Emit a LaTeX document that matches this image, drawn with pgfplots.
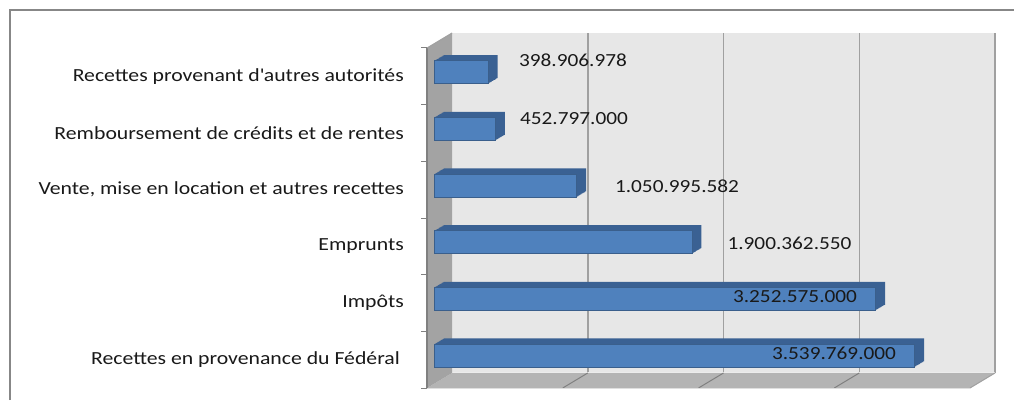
\documentclass[border=0pt]{standalone}
\usepackage{fontspec}
\setmainfont{Carlito}[FakeStretch=1.15]
\newfontfamily\catfont{Carlito}[FakeStretch=1.175]
\usepackage{pgfplots}
\pgfplotsset{compat=1.18}
\usepackage{pgfplotstable}
\definecolor{barfront}{HTML}{4F81BD}
\definecolor{barside}{HTML}{3A6193}
\definecolor{barline}{HTML}{3A5F8C}
\definecolor{wallback}{HTML}{E7E7E7}
\definecolor{wallfloor}{HTML}{B4B4B4}
\definecolor{wallside}{HTML}{A3A3A3}
\definecolor{gridc}{HTML}{A0A0A0}
\definecolor{framec}{HTML}{878787}
\definecolor{edgec}{HTML}{808080}

\pgfplotstableread{
y x
0 3539769000
1 3252575000
2 1900362550
3 1050995582
4 452797000
5 398906978
}\datatable

\begin{document}
\begin{tikzpicture}[x=1pt,y=1pt]
\path[use as bounding box] (0,0) rectangle (1014,400);
% outer frame
\draw[framec, line width=2pt] (10,0) -- (10,390) -- (1014,390);
% back wall
\fill[wallback] (452,27) rectangle (995,367);
\foreach \k in {1,2,3} {
  \draw[gridc, line width=1.5pt] ({452+135.75*\k},27) -- ({452+135.75*\k},367);
}
\draw[gridc, line width=2pt] (995,27) -- (995,367);
% floor
\fill[wallfloor] (427,12) -- (970,12) -- (995,27) -- (452,27) -- cycle;
\draw[white!85!gray, line width=1pt] (452,27.5) -- (995,27.5);
\foreach \k in {1,2,3} {
  \draw[edgec, line width=1pt] ({452+135.75*\k},27) -- ({427+135.75*\k},12);
}
\draw[gridc, line width=1pt] (995,27) -- (970,12);
\draw[white!75!gray, line width=1pt] (427,12) -- (970,12);
% side wall
\fill[wallside] (427,12) -- (452,27) -- (452,367) -- (427,352) -- cycle;
\draw[edgec, line width=1.5pt] (427,12) -- (427,352);
\draw[gridc, line width=1pt] (427,352) -- (452,367);
\foreach \k in {0,...,6} {
  \draw[edgec, line width=1pt] (421,{12+56.667*\k}) -- (427,{12+56.667*\k});
}
\begin{axis}[
  at={(434pt,16pt)}, anchor=south west,
  scale only axis, width=543pt, height=340pt,
  xmin=0, xmax=4e9, ymin=-0.5, ymax=5.5,
  axis line style={draw=none},
  xtick=\empty,
  ytick={0,1,2,3,4,5},
  yticklabels={{Recettes en provenance du Fédéral\hspace*{4pt}},{Impôts},{Emprunts},{Vente, mise en location et autres recettes},{Remboursement de crédits et de rentes},{Recettes provenant d\textquotesingle autres autorités}},
  major tick length=0pt,
  yticklabel style={anchor=east, inner sep=0pt, xshift=-30pt, yshift=-4pt, font=\catfont\fontsize{18.5}{22}\selectfont, text=black!90},
  clip=false,
]
\pgfplotsinvokeforeach{10,9,...,1}{
  \addplot[xbar, bar shift=0pt, bar width=23pt, fill=barside, draw=none, xshift=#1*0.95pt, yshift=#1*0.57pt] table[x=x,y=y] {\datatable};
}
\addplot[xbar, bar shift=0pt, bar width=23pt, fill=barfront, draw=barline, line width=0.8pt] table[x=x,y=y] {\datatable};
\end{axis}
% value labels
\begin{scope}[every node/.style={font=\fontsize{18.5}{22}\selectfont, text=black!90, inner sep=0pt}]
\node at (573,340) {398.906.978};
\node at (574,281) {452.797.000};
\node at (677,214) {1.050.995.582};
\node at (789.5,157) {1.900.362.550};
\node at (795,103.3) {3.252.575.000};
\node at (834,46.7) {3.539.769.000};
\end{scope}
\end{tikzpicture}
\end{document}
